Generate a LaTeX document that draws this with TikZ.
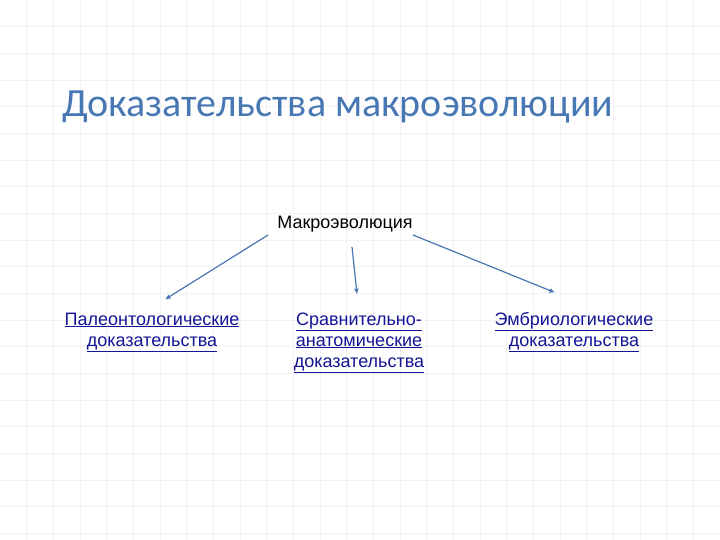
\documentclass[tikz,border=0pt]{standalone}
\usepackage{fontspec}
\setmainfont{Liberation Sans}
\newfontfamily\titlefont{Carlito}
\usetikzlibrary{arrows.meta}
\definecolor{titleblue}{RGB}{72,120,180}
\definecolor{linkblue}{RGB}{20,20,150}
\definecolor{arrowblue}{RGB}{74,118,178}
\colorlet{gridgray}{gray!10}
\tikzset{ % styles for the slide
  grid line/.style={draw=gridgray,line width=0.8pt},
  title/.style={inner sep=0,text=titleblue,font=\titlefont\fontsize{40}{48}\selectfont},
  topic/.style={inner sep=0,text=black,font=\fontsize{18}{21}\selectfont},
  proof/.style={inner sep=0,text=linkblue,align=center,font=\fontsize{18}{21}\selectfont},
  link/.style={draw=arrowblue,line width=1.2pt,-{Latex[length=5.5pt,width=5pt]}}
}
\begin{document}
\begin{tikzpicture}[x=1pt,y=-1pt]
\fill[white] (0,0) rectangle (720,540);
\useasboundingbox (0,0) rectangle (720,540);

% grid
\foreach\i in {1,...,26}
  \draw[grid line] (\i*26.667,0) -- (\i*26.667,540);
\foreach\j in {1,...,20}
  \draw[grid line] (0,\j*26.667) -- (720,\j*26.667);

\node[title,anchor=base west] (title) at (62,117) {Доказательства макроэволюции};

\node[topic,anchor=base] (macro) at (345,229) {Макроэволюция};

% base = last line
\node[proof,anchor=base] (paleo)  at (152,346) {\underline{Палеонтологические}\\\underline{доказательства}};
\node[proof,anchor=base] (comp)   at (359,367) {\underline{Сравнительно-}\\\underline{анатомические}\\\underline{доказательства}};
\node[proof,anchor=base] (embryo) at (574,346) {\underline{Эмбриологические}\\\underline{доказательства}};

% arrows
\draw[link] ([shift={(-9pt,-2pt)}]macro.south west) -- ([shift={(13pt,13pt)}]paleo.north);
\draw[link] ([shift={(7pt,-14pt)}]macro.south) -- ([shift={(-2pt,18pt)}]comp.north);
\draw[link] ([shift={(0pt,-2pt)}]macro.south east) -- ([shift={(-19pt,19pt)}]embryo.north);
\end{tikzpicture}
\end{document}
